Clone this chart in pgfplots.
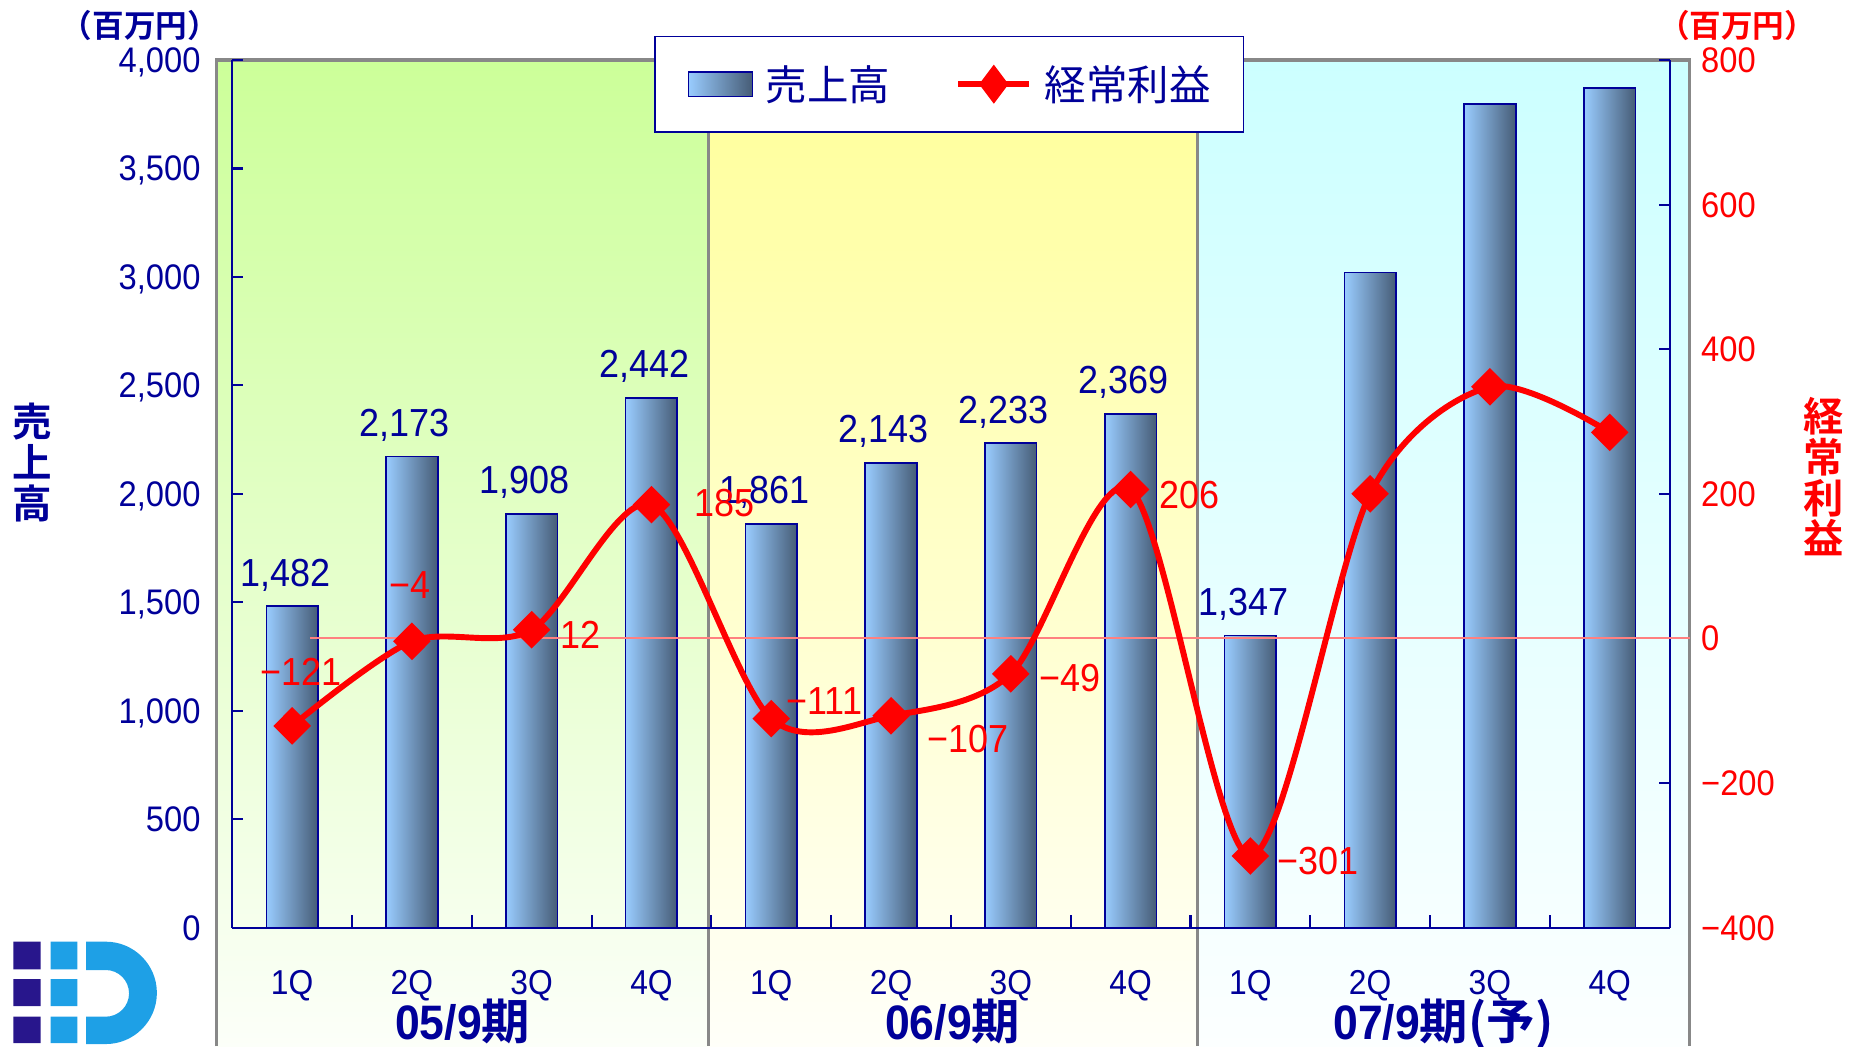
\documentclass[border=0pt]{standalone}
\usepackage{fontspec}
\setmainfont{Liberation Sans}[FakeStretch=0.92]
\newfontfamily\jp{Noto Sans CJK JP}[BoldFont={Noto Sans CJK JP Bold}]
\usepackage{pgfplots}
\usepackage{pgfplotstable}
\pgfplotsset{compat=1.18}
\definecolor{navy}{RGB}{0,0,153}
\definecolor{barL}{RGB}{153,204,255}
\definecolor{barR}{RGB}{70,92,118}
\definecolor{grn}{RGB}{204,255,153}
\definecolor{ylw}{RGB}{255,255,153}
\definecolor{cyn}{RGB}{204,255,255}
\definecolor{framegray}{RGB}{136,136,136}
\definecolor{zeroline}{RGB}{255,128,128}
\definecolor{logoD}{RGB}{40,22,140}
\definecolor{logoL}{RGB}{30,160,230}
\newcommand\fs[1]{\fontsize{#1pt}{#1pt}\selectfont}
\pgfplotstableread{
x y lab
0 1482 {1,482}
1 2173 {2,173}
2 1908 {1,908}
3 2442 {2,442}
4 1861 {1,861}
5 2143 {2,143}
6 2233 {2,233}
7 2369 {2,369}
8 1347 {1,347}
}\barsA
\pgfplotstableread{
x y
9 3020
10 3796
11 3870
}\barsB
\pgfplotstableread{
x y
0 -121
1 -4
2 12
3 185
4 -111
5 -107
6 -49
7 206
8 -301
9 200
10 348
11 285
}\profit
\pgfplotstableread{
x y lab dx dy
0 -121 −121 4.7 20.3
1 -4 −4 -1.2 21.9
2 12 12 24.5 -9.3
3 185 185 37.1 -5.9
4 -111 −111 26.8 2.2
5 -107 −107 39.1 -18.5
6 -49 −49 30.1 -8.8
7 206 206 29.7 -9.4
8 -301 −301 34.4 -9.3
}\profitlab
\pgfplotsset{geom/.style={scale only axis, width=727.8pt, height=439.3pt,
  at={(117.6pt,60.1pt)}, anchor=south west, xmin=-0.5, xmax=11.5, clip=false,
  axis line style={navy, line width=1.1pt, -}, tick style={navy, line width=1.1pt},
  tick align=inside, major tick length=5.5pt, minor tick length=6.4pt},
  mybar/.style={ybar, bar width=0.431, bar shift=0pt, draw=navy, line width=0.8pt,
  left color=barL, right color=barR},
  barleg/.style={legend image code/.code={\draw[navy, line width=0.8pt, left color=barL, right color=barR] (0pt,-6.3pt) rectangle (32.4pt,6.3pt);}},
  lineleg/.style={legend image code/.code={\draw[mark repeat=2,mark phase=2,##1,mark options={draw=none,fill=red,xscale=1}] plot coordinates {(0pt,0pt) (18pt,0pt) (36pt,0pt)};}}}
\begin{document}
\begin{tikzpicture}
\useasboundingbox (0,0) rectangle (940.8pt,529.8pt);
\begin{scope}[shift={(0pt,529.8pt)},x=0.6pt,y=-0.6pt]
  \shade[top color=grn, bottom color=grn!6!white] (182.6,50.6) rectangle (598,883);
  \shade[top color=ylw, bottom color=ylw!6!white] (598,50.6) rectangle (1010.5,883);
  \shade[top color=cyn, bottom color=cyn!6!white] (1010.5,50.6) rectangle (1426,883);
  \draw[framegray, line width=1.7pt] (182.6,883) -- (182.6,50.6) -- (1426,50.6) -- (1426,883);
  \draw[framegray, line width=1.7pt] (598,50.6) -- (598,883) (1010.5,50.6) -- (1010.5,883);
  % logo
  \fill[logoD] (11.3,794.7) rectangle (34.3,818) (11.3,826.4) rectangle (34.3,849) (11.3,858) rectangle (34.3,880.4);
  \fill[logoL] (42.8,794.7) rectangle (65.3,818) (42.8,826.4) rectangle (65.3,849) (42.8,858) rectangle (65.3,880.4);
  \fill[logoL] (72.6,794.7) -- (89.2,794.7) arc[start angle=-90,end angle=90,radius=43.2]
     -- (72.6,881.1) -- (72.6,858) -- (89.2,858) arc[start angle=90,end angle=-90,radius=19.7]
     -- (72.6,818.6) -- cycle;
\end{scope}

\begin{axis}[geom, ymin=0, ymax=4000,
  axis y line*=left, axis x line*=bottom,
  ytick={0,500,...,4000},
  yticklabels={0,500,{1,000},{1,500},{2,000},{2,500},{3,000},{3,500},{4,000}},
  yticklabel style={font=\fs{18}, text=navy, anchor=east, inner sep=0pt, text depth=0pt, xshift=-15.9pt},
  xtick={0,...,11}, xticklabels={1Q,2Q,3Q,4Q,1Q,2Q,3Q,4Q,1Q,2Q,3Q,4Q},
  major x tick style={draw=none},
  minor xtick={0.5,1.5,...,10.5},
  xticklabel style={font=\fs{17.5}, text=navy, anchor=base, inner sep=0pt, yshift=-33.9pt},
]
\pgfplotsinvokeforeach{0,...,8}{
\addplot[mybar, restrict x to domain=#1:#1,
  point meta=explicit symbolic, nodes near coords, nodes near coords align={anchor=base},
  every node near coord/.append style={font=\fs{19.8}, text=navy, inner sep=0pt, yshift=10.2pt, xshift=-3.6pt}]
  table[x=x,y=y,meta=lab]{\barsA};
}
\pgfplotsinvokeforeach{9,10,11}{
\addplot[mybar, restrict x to domain=#1:#1] table[x=x,y=y]{\barsB};
}
\node[font=\jp\bfseries\fontsize{20pt}{20.7pt}\selectfont, text=navy, align=center] at (rel axis cs:-0.1393,0.5362) {売\\上\\高};
\node[font=\jp\bfseries\fs{16}, text=navy] at (rel axis cs:-0.0643,1.0396) {（百万円）};
\node[font=\bfseries\fs{24.5}, text=navy, anchor=base, yshift=-56.6pt] at (axis cs:1.424,0) {05/9{\jp 期}};
\node[font=\bfseries\fs{24.5}, text=navy, anchor=base, yshift=-56.6pt] at (axis cs:5.515,0) {06/9{\jp 期}};
\node[font=\bfseries\fs{24.5}, text=navy, anchor=base, yshift=-56.6pt] at (axis cs:9.611,0) {07/9{\jp 期(予)}};
\end{axis}

\begin{axis}[geom, ymin=-400, ymax=800,
  axis y line*=right, hide x axis,
  ytick={-400,-200,...,800},
  yticklabels={−400,−200,0,200,400,600,800},
  yticklabel style={font=\fs{18}, text=red, anchor=west, inner sep=0pt, text depth=0pt, xshift=15.8pt},
  legend columns=2,
  legend style={at={(rel axis cs:0.4988,1.028)}, anchor=north, draw=navy, line width=0.9pt,
    fill=white, inner xsep=16.5pt, inner ysep=14.5pt, font=\jp\fs{21}, text=navy,
    nodes={inner sep=0pt},
    /tikz/every odd column/.append style={column sep=6.4pt},
    /tikz/every even column/.append style={column sep=33pt},
    /tikz/column 3/.append style={column sep=4pt}},
]
\draw[zeroline, line width=1pt] (axis cs:0.149,0) -- (axis cs:11.67,0);
\addlegendimage{barleg}
\addlegendentry{売上高}
\addplot[red, line width=3pt, smooth, mark=diamond*, mark size=7.4pt,
  mark options={draw=none, fill=red, xscale=1.33}, lineleg]
  table[x=x,y=y]{\profit};
\addlegendentry{経常利益}
\addplot[draw=none, mark=none, forget plot, point meta=explicit symbolic, nodes near coords,
  nodes near coords align={anchor=base},
  visualization depends on={\thisrow{dx}\as\dx},
  visualization depends on={\thisrow{dy}\as\dy},
  every node near coord/.append style={font=\fs{19.8}, text=red, inner sep=0pt, xshift=\dx pt, yshift=\dy pt}]
  table[x=x,y=y,meta=lab]{\profitlab};
\node[font=\jp\bfseries\fontsize{20.4pt}{20.7pt}\selectfont, text=red, align=center] at (rel axis cs:1.1072,0.5198) {経\\常\\利\\益};
\node[font=\jp\bfseries\fs{16}, text=red] at (rel axis cs:1.047,1.0396) {（百万円）};
\end{axis}
\end{tikzpicture}
\end{document}
